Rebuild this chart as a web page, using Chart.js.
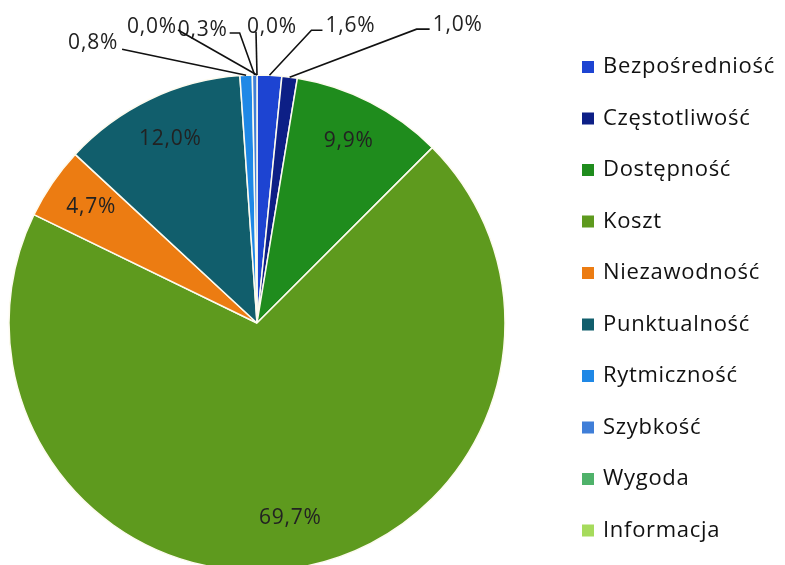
<!DOCTYPE html>
<html>
<head>
<meta charset="utf-8">
<script src="https://cdn.jsdelivr.net/npm/chart.js@4/dist/chart.umd.min.js"></script>
<style>
  html, body { margin: 0; padding: 0; background: #fff; overflow: hidden; }
  #wrap { position: relative; width: 785px; height: 565px; }
</style>
</head>
<body>
<div id="wrap"><canvas id="pie-chart"></canvas></div>
<script>
const categories = ["Bezpośredniość", "Częstotliwość", "Dostępność", "Koszt", "Niezawodność",
                    "Punktualność", "Rytmiczność", "Szybkość", "Wygoda", "Informacja"];
const shares = [1.6, 1.0, 9.9, 69.7, 4.7, 12.0, 0.8, 0.3, 0.0, 0.0];
const colors = ["#1d44d2", "#0d1f86", "#1f8c1d", "#5e9a1e", "#ec7c12",
                "#115e6c", "#1f88e6", "#3f7ed8", "#4fb26a", "#a6db5c"];

// leader lines for the thin slices: [dx, dy, tail, textDx, textDy, align]
const callouts = {
  0: [42, -45, 11, 3, -4, "left"],
  1: [127, -48, 13, 3, -4, "left"],
  6: [-124, -26, 0, -4, -6, "right"],
  7: [-15, -42, -10, -2, -3, "right"],
  8: [-79, -45, 0, -1, -3, "right"],
  9: [-1, -43, 0, -9, -5, "left"]
};

const fmt = v => v.toFixed(1).replace(".", ",") + "%";

const pieLabels = {
  id: "pieLabels",
  afterDatasetsDraw(chart) {
    const ctx = chart.ctx;
    const arcs = chart.getDatasetMeta(0).data;
    ctx.save();
    ctx.font = '21px "Open Sans"';
    ctx.letterSpacing = "0.8px";
    ctx.fillStyle = "#222";
    ctx.strokeStyle = "#111";
    ctx.lineWidth = 1.6;
    arcs.forEach((arc, i) => {
      const p = arc.getProps(["x", "y", "startAngle", "endAngle", "outerRadius"], true);
      const mid = (p.startAngle + p.endAngle) / 2;
      const text = fmt(shares[i]);
      const c = callouts[i];
      if (!c) {
        const r = p.outerRadius * 0.81;
        ctx.textAlign = "center";
        ctx.textBaseline = "middle";
        ctx.fillText(text, p.x + Math.cos(mid) * r, p.y + Math.sin(mid) * r - 3);
        return;
      }
      const ox = p.x + Math.cos(mid) * p.outerRadius;
      const oy = p.y + Math.sin(mid) * p.outerRadius;
      const ex = ox + c[0], ey = oy + c[1], tx = ex + c[2];
      ctx.beginPath();
      ctx.moveTo(ox, oy);
      ctx.lineTo(ex, ey);
      ctx.lineTo(tx, ey);
      ctx.stroke();
      ctx.textAlign = c[5];
      ctx.textBaseline = "middle";
      ctx.fillText(text, tx + c[3], ey + c[4]);
    });
    ctx.restore();
  }
};

const sideLegend = {
  id: "sideLegend",
  afterDraw(chart) {
    const ctx = chart.ctx;
    const ds = chart.data.datasets[0];
    ctx.save();
    ctx.font = '22px "Open Sans"';
    ctx.letterSpacing = "0.7px";
    ctx.textAlign = "left";
    ctx.textBaseline = "middle";
    chart.data.labels.forEach((label, i) => {
      const y = 67 + i * 51.5;
      ctx.fillStyle = ds.backgroundColor[i];
      ctx.fillRect(582, y - 6, 12, 12);
      ctx.fillStyle = "#111";
      ctx.fillText(label, 603, y);
    });
    ctx.restore();
  }
};

new Chart(document.getElementById("pie-chart"), {
  type: "pie",
  data: {
    labels: categories,
    datasets: [{
      data: shares,
      backgroundColor: colors,
      borderColor: "#fdfbef",
      borderWidth: 1.5,
      radius: 248
    }]
  },
  options: {
    responsive: true,
    maintainAspectRatio: false,
    animation: false,
    layout: { padding: { left: 9, right: 280, top: 81, bottom: 0 } },
    plugins: {
      legend: { display: false },
      tooltip: { enabled: false }
    }
  },
  plugins: [pieLabels, sideLegend]
});
</script>
</body>
</html>
